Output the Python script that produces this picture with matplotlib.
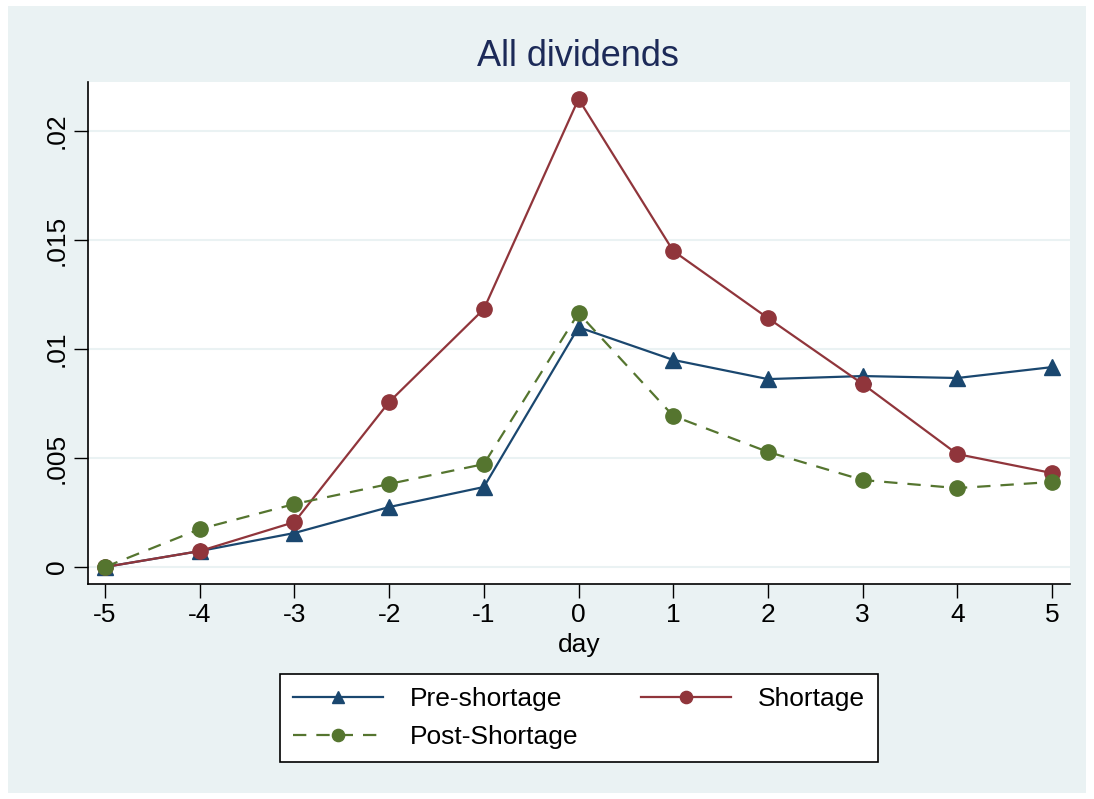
import matplotlib.pyplot as plt
from matplotlib.patches import Rectangle

days = [-5, -4, -3, -2, -1, 0, 1, 2, 3, 4, 5]
pre_shortage = [0.0, 0.00073, 0.00156, 0.00275, 0.00367, 0.0110, 0.0095, 0.00862, 0.00876, 0.00867, 0.00917]
shortage = [0.0, 0.00073, 0.00206, 0.00757, 0.01183, 0.02147, 0.0145, 0.01142, 0.0084, 0.00518, 0.00431]
post_shortage = [0.0, 0.00174, 0.00289, 0.00381, 0.00472, 0.01165, 0.00693, 0.00528, 0.00399, 0.00362, 0.0039]

y_ticks = [0, 0.005, 0.01, 0.015, 0.02]
y_labels = ["0", ".005", ".01", ".015", ".02"]

navy = "#1a476f"
maroon = "#90353b"
green = "#55752f"
bg = "#eaf2f3"
title_col = "#1c2a58"

plt.rcParams["font.family"] = ["Liberation Sans", "DejaVu Sans"]

W, H = 1094, 799
fig = plt.figure(figsize=(10.94, 7.99), dpi=100, facecolor="white")
fig.patches.append(Rectangle((8 / W, 6 / H), 1078 / W, 787 / H,
                             transform=fig.transFigure, facecolor=bg,
                             edgecolor="none", zorder=-10))

ax = fig.add_axes([88 / W, 1 - 584 / H, (1070 - 88) / W, (584 - 82) / H])
ax.set_facecolor("white")

l1, = ax.plot(days, pre_shortage, color=navy, lw=1.6, marker="^", ms=11,
              label="Pre-shortage", zorder=3)
l2, = ax.plot(days, shortage, color=maroon, lw=1.6, marker="o", ms=11,
              label="Shortage", zorder=4)
l3, = ax.plot(days, post_shortage, color=green, lw=1.6, marker="o", ms=11,
              ls=(0, (6, 4.5)), label="Post-Shortage", zorder=5)

ax.set_xlim(-5.18, 5.19)
ax.set_ylim(-0.00078, 0.02225)
ax.set_xticks(days)
ax.set_xticklabels([str(d) for d in days])
ax.set_yticks(y_ticks)
ax.set_yticklabels(y_labels, rotation=90, va="center")
ax.tick_params(axis="both", labelsize=19, length=10, width=1, direction="out", pad=4)
ax.grid(axis="y", color=bg, lw=1.5, zorder=0)
ax.set_axisbelow(True)

for side in ["top", "right"]:
    ax.spines[side].set_visible(False)
for side in ["left", "bottom"]:
    ax.spines[side].set_linewidth(1.2)

ax.set_xlabel("day", fontsize=19, labelpad=4)
fig.text(578 / W, 1 - 57 / H, "All dividends", fontsize=26, color=title_col,
         ha="center", va="center")

leg = fig.legend([l1, l3, l2], ["Pre-shortage", "Post-Shortage", "Shortage"],
                 ncol=2, loc="center", bbox_to_anchor=(579 / W, 1 - 718 / H),
                 fontsize=19, frameon=True, fancybox=False, edgecolor="black",
                 facecolor="white", framealpha=1,
                 handlelength=3.4, handletextpad=1.0, columnspacing=2.4,
                 borderpad=0.5, labelspacing=0.55, markerscale=0.8)
leg.get_frame().set_linewidth(1.2)

fig.savefig("out.png", dpi=100, facecolor="white")
